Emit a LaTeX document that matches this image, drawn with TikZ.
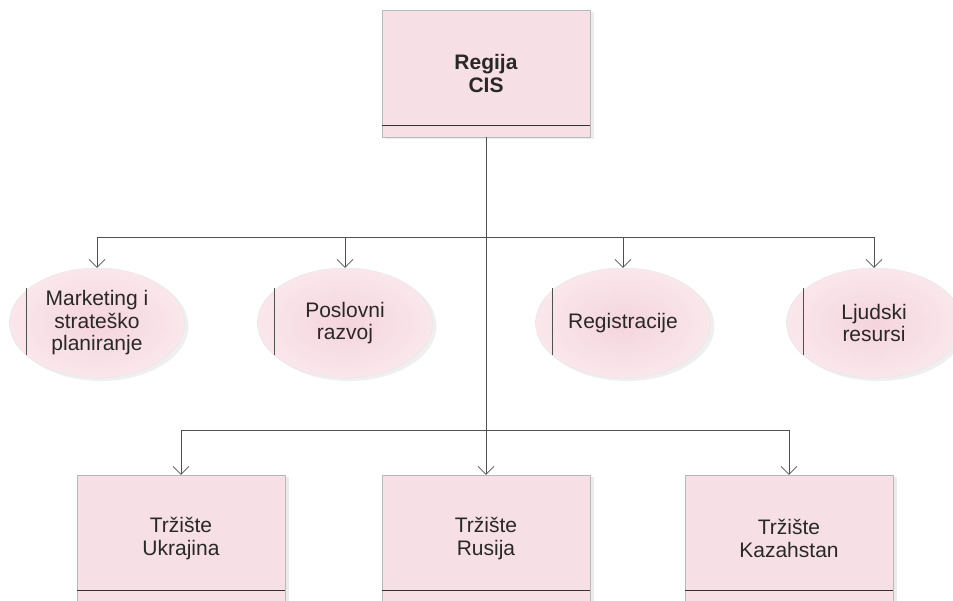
\documentclass[tikz,border=0pt]{standalone}
\usepackage{fontspec}
\setmainfont{Liberation Sans}
\usepackage{xcolor}
\usetikzlibrary{shapes.geometric,arrows.meta,positioning,shadows}

\definecolor{boxpink}{RGB}{247,224,229}
\definecolor{blobpink}{RGB}{245,212,221}
\definecolor{linegray}{RGB}{80,80,80}
\definecolor{textgray}{RGB}{40,40,40}

\begin{document}
\begin{tikzpicture}[
    x=1pt, y=-1pt,
    box/.style={rectangle, draw=gray!55, fill=boxpink, minimum width=208pt, minimum height=127pt, align=center, text=textgray, font=\fontsize{21}{23}\selectfont, drop shadow={shadow xshift=4pt, shadow yshift=-2pt, fill=gray!30}},
    blob/.style={ellipse, draw=gray!20, inner color=blobpink, outer color=blobpink!55, minimum width=175pt, minimum height=110pt, inner sep=0pt, align=center, text=textgray, font=\fontsize{21}{22.5}\selectfont, drop shadow={shadow xshift=4pt, shadow yshift=-3pt, fill=gray!25}},
    arrow/.style={-{Straight Barb[length=8pt, width=16pt]}, linegray, line width=0.6pt},
    bus/.style={linegray, line width=0.6pt}
]
\useasboundingbox (0,0) rectangle (953,601);

% Top: region
\node[box] (cis) at (486,73.5) {\textbf{Regija}\\\textbf{CIS}};

% Middle row: staff functions
\node[blob] (mkt) at (97,323) {Marketing i\\strateško\\planiranje};
\node[blob] (razvoj) at (345,323) {Poslovni\\razvoj};
\node[blob] (reg) at (623,323) {Registracije};
\node[blob] (ljudi) at (874,323) {Ljudski\\resursi};

% Bottom row: markets
\node[box] (ukr) at (181,538.5) {Tržište\\Ukrajina};
\node[box] (rus) at (486,538.5) {Tržište\\Rusija};
\node[box] (kaz) at (789,538.5) {Tržište\\Kazahstan};

% Thick lines near bottom of boxes
\foreach \n in {cis,ukr,rus,kaz}
    \draw[black!80, line width=1.3pt] ([yshift=12pt]\n.south west) -- ([yshift=12pt]\n.south east);

% Bars inside ellipses
\foreach \n in {mkt,razvoj,reg,ljudi}
    \draw[linegray, line width=0.8pt] ([xshift=17pt,yshift=35pt]\n.west) -- ([xshift=17pt,yshift=-32pt]\n.west);

% Connectors
\coordinate (bus1) at (cis.south |- 0,237);
\coordinate (bus2) at (cis.south |- 0,430);
\draw[arrow] (cis.south) -- (rus.north);
\foreach \n in {mkt,razvoj,reg,ljudi}
    \draw[arrow] (bus1) -| (\n.north);
\foreach \n in {ukr,kaz}
    \draw[arrow] (bus2) -| (\n.north);

\end{tikzpicture}
\end{document}
